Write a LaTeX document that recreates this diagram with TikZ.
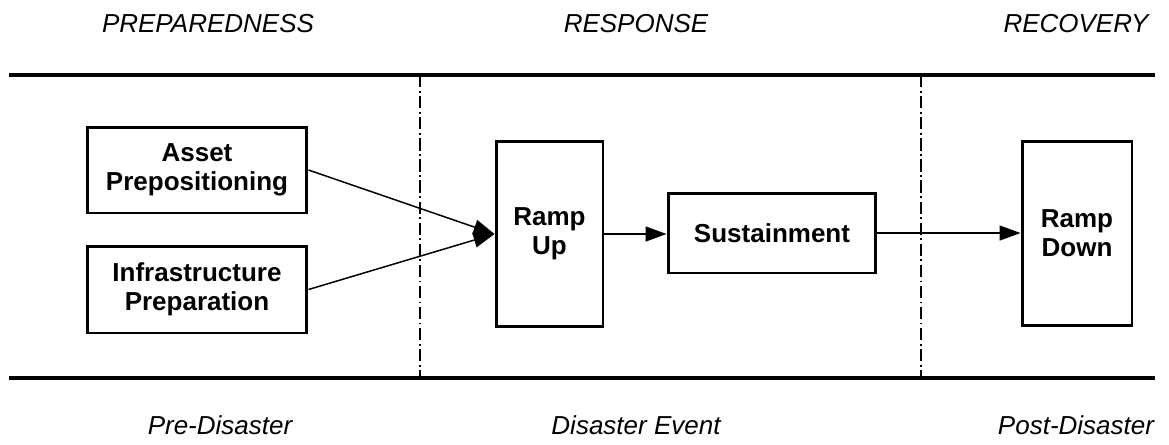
\documentclass[tikz,border=0pt]{standalone}
\usepackage{fontspec}
\setmainfont{Liberation Sans}
\usepackage{tikz}
\usetikzlibrary{arrows.meta}

\begin{document}
\begin{tikzpicture}[>={Triangle[length=0.42cm,width=0.3cm]},x=0.02cm,y=-0.02cm,
    box/.style={draw, line width=1.7pt, align=center, inner sep=0pt,
        font=\fontsize{14.8}{16.5}\selectfont\bfseries},
    phase/.style={font=\fontsize{14.8}{16.5}\selectfont\itshape},
    flow/.style={->, line width=0.85pt},
    divider/.style={line width=0.6pt, dash pattern=on 7pt off 2pt on 1pt off 2pt}]

    \useasboundingbox (0,0) rectangle (1169,444);

%the time line
    \draw[line width=2.3pt] (9,75) -- (1155,75);
    \draw[line width=2.3pt] (9,378) -- (1155,378);
    \draw[divider] (420,75) -- (420,378);
    \draw[divider] (921,75) -- (921,378);

%phases and events
    \node[phase] (prep) at (208,24) {PREPAREDNESS};
    \node[phase] (resp) at (636,24) {RESPONSE};
    \node[phase] (recov) at (1076,24) {RECOVERY};
    \node[phase] (pre) at (220,425) {Pre-Disaster};
    \node[phase] (event) at (636,425) {Disaster Event};
    \node[phase] (post) at (1076,425) {Post-Disaster};

%the boxes
    \node[box, minimum width=4.4cm, minimum height=1.72cm] (asset) at (197,170) {Asset\\Prepositioning};
    \node[box, minimum width=4.4cm, minimum height=1.74cm] (infra) at (197,289.5) {Infrastructure\\Preparation};
    \node[box, minimum width=2.14cm, minimum height=3.72cm] (rampup) at (549.5,234) {Ramp\\Up};
    \node[box, minimum width=4.16cm, minimum height=1.6cm] (sust) at (772,233) {Sustainment};
    \node[box, minimum width=2.2cm, minimum height=3.7cm] (rampdown) at (1077,233.5) {Ramp\\Down};

%the flow
    \draw[flow] (asset.east) -- (rampup.west);
    \draw[flow] (infra.east) -- (rampup.west);
    \draw[flow] (rampup.east) -- (rampup.east -| sust.west);
    \draw[flow] (sust.east) -- (sust.east -| rampdown.west);
\end{tikzpicture}
\end{document}
